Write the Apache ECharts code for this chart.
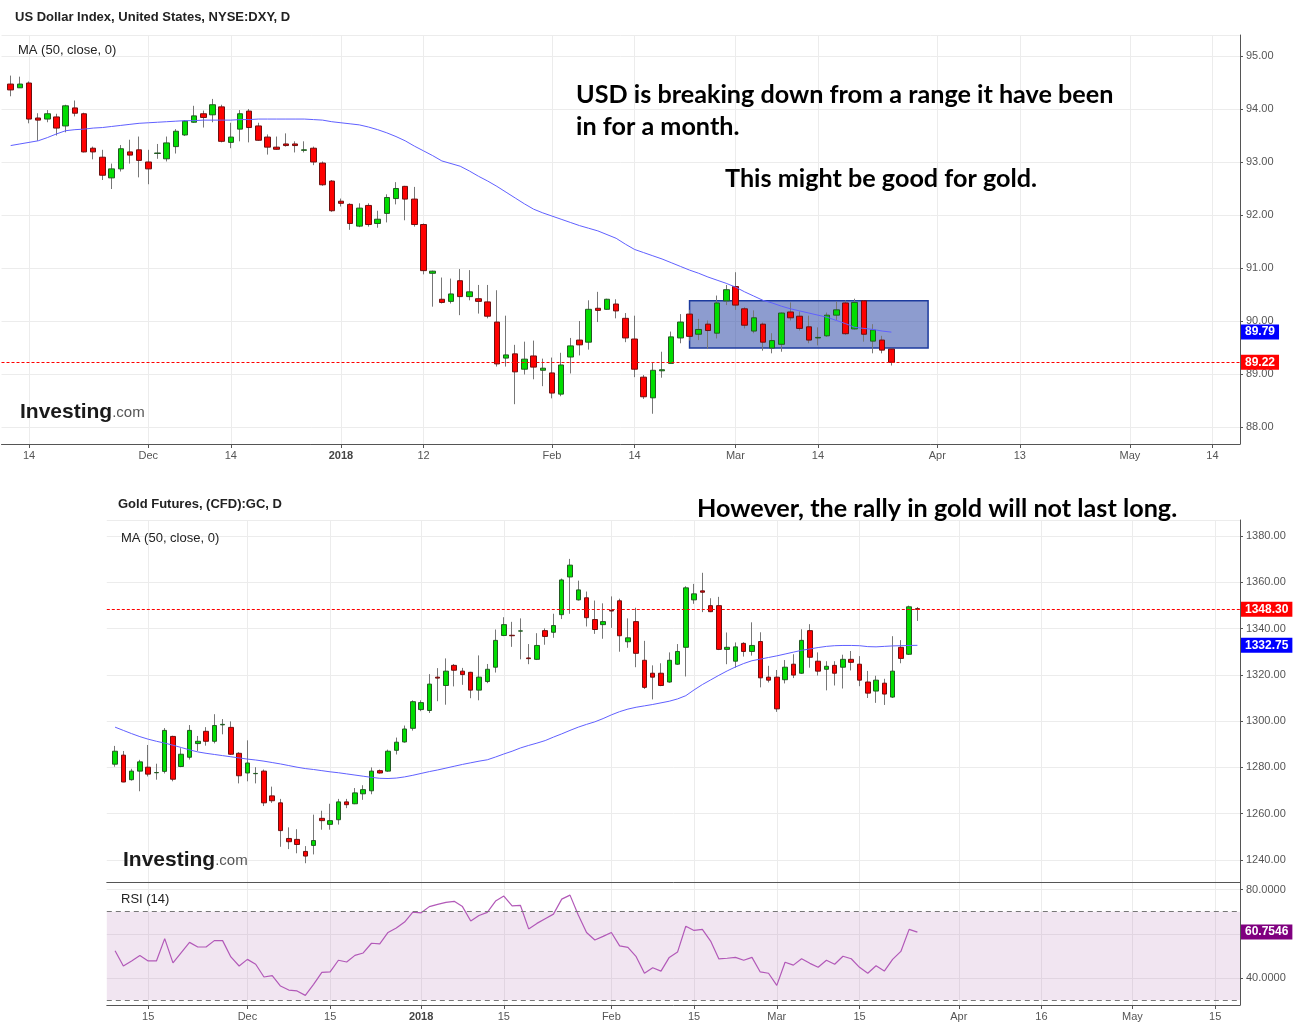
<!DOCTYPE html>
<html><head><meta charset="utf-8">
<script src="https://cdn.jsdelivr.net/npm/echarts@6/dist/echarts.min.js"></script>
<style>html,body{margin:0;padding:0;background:#fff}#c{width:1298px;height:1036px}</style>
</head><body><div id="c"></div>
<script>
// ---------- axis calendars (trading weekdays; index 0 is an empty pad day) ----------
const dxyFirstDay = '2017-11-09';
const dxyDayCount = 136;
const goldFirstDay = '2017-11-08';
const goldDayCount = 138;

const dxyTickDates = ['2017-11-14','2017-12-01','2017-12-14','2018-01-01','2018-01-12','2018-02-01','2018-02-14','2018-03-01','2018-03-14','2018-04-02','2018-04-13','2018-05-01','2018-05-14'];
const dxyTickLabels = ['14','Dec','14','2018','12','Feb','14','Mar','14','Apr','13','May','14'];
const goldTickDates = ['2017-11-15','2017-12-01','2017-12-15','2018-01-01','2018-01-15','2018-02-01','2018-02-15','2018-03-01','2018-03-15','2018-04-02','2018-04-16','2018-05-01','2018-05-15'];
const goldTickLabels = ['15','Dec','15','2018','15','Feb','15','Mar','15','Apr','16','May','15'];

// ---------- US Dollar Index (Nov 10 2017 .. Mar 26 2018) ----------
const dxyOpen = [94.47,94.40,94.49,93.83,93.81,93.85,93.68,94.02,93.91,93.26,
93.09,92.70,92.87,93.19,93.23,93.00,93.16,93.06,93.29,93.51,
93.75,93.91,93.89,94.04,93.37,93.62,93.96,93.68,93.47,93.28,
93.34,93.34,93.22,93.26,92.98,92.64,92.26,92.20,91.79,92.18,
91.84,92.03,92.31,92.54,92.30,91.82,90.90,90.41,90.37,90.76,
90.46,90.42,90.36,89.98,89.30,89.38,89.09,89.34,89.07,89.02,
88.62,89.32,89.64,89.60,90.24,90.22,90.32,90.05,89.66,88.94,
88.55,89.06,89.20,89.68,90.13,89.75,89.94,89.77,90.38,90.65,
90.23,89.81,89.94,89.49,89.56,90.17,90.09,89.89,89.68,89.72,
90.11,90.34,89.85,90.38,89.62,89.64,89.47];
const dxyClose = [94.36,94.47,93.81,93.79,93.91,93.64,94.06,93.92,93.19,93.19,
92.75,92.87,93.25,93.13,93.03,92.87,93.17,93.36,93.58,93.77,
93.87,93.84,94.08,93.39,93.47,93.91,93.65,93.41,93.28,93.24,
93.31,93.31,93.23,93.00,92.57,92.08,92.22,91.84,92.13,91.82,
91.92,92.33,92.50,92.30,91.82,90.95,90.94,90.35,90.51,90.46,
90.55,90.37,90.09,89.19,89.36,89.04,89.28,89.13,89.11,88.64,
89.17,89.53,89.55,90.22,90.20,90.41,90.19,89.68,89.09,88.57,
89.07,89.08,89.70,89.98,89.71,89.84,89.82,90.34,90.59,90.30,
89.92,90.06,89.60,89.63,90.15,90.06,89.86,89.64,89.69,90.11,
90.21,89.76,90.35,89.75,89.83,89.45,89.22];
const dxyLow = [94.24,94.40,93.73,93.40,93.75,93.50,93.56,93.86,93.18,93.05,
92.66,92.49,92.82,92.97,92.71,92.58,93.06,93.01,93.16,93.49,
93.74,93.65,93.75,93.37,93.26,93.39,93.37,93.40,93.14,93.23,
93.29,93.18,93.18,92.94,92.55,92.06,92.16,91.72,91.77,91.78,
91.76,91.86,92.20,91.90,91.78,90.88,90.27,90.33,90.33,90.11,
90.39,90.14,90.05,89.14,89.14,88.43,88.99,88.90,88.77,88.54,
88.58,89.01,89.35,89.46,89.98,90.21,90.05,89.60,88.94,88.53,
88.25,88.93,89.20,89.58,89.63,89.64,89.47,89.67,90.30,90.21,
89.86,89.77,89.44,89.39,89.42,90.01,89.82,89.58,89.54,89.70,
90.02,89.74,89.84,89.61,89.39,89.39,89.16];
const dxyHigh = [94.63,94.61,94.52,93.92,93.98,93.91,94.08,94.16,93.93,93.29,
93.23,92.97,93.32,93.42,93.48,93.23,93.34,93.48,93.62,93.79,
94.06,93.97,94.19,94.08,93.74,93.98,94.00,93.74,93.52,93.48,
93.54,93.39,93.39,93.29,93.01,92.66,92.31,92.22,92.22,92.22,
92.08,92.39,92.62,92.55,92.53,91.84,90.95,90.82,90.80,90.98,
90.96,90.68,90.68,90.58,90.10,89.55,89.61,89.63,89.29,89.31,
89.40,89.68,90.00,90.39,90.55,90.42,90.41,90.15,90.10,88.98,
89.21,89.42,89.80,90.13,90.21,90.04,90.01,90.48,90.68,90.92,
90.26,90.20,89.97,89.77,90.16,90.35,90.18,90.10,89.88,90.16,
90.37,90.39,90.42,90.39,89.94,89.72,89.49];
const dxyMA50 = [93.31,93.34,93.37,93.40,93.46,93.53,93.59,93.61,93.62,93.64,
93.65,93.67,93.69,93.71,93.73,93.74,93.75,93.76,93.77,93.78,
93.78,93.79,93.79,93.79,93.79,93.80,93.80,93.81,93.81,93.81,
93.81,93.81,93.81,93.80,93.79,93.76,93.74,93.72,93.70,93.66,
93.61,93.55,93.48,93.40,93.30,93.21,93.12,93.02,92.97,92.92,
92.83,92.73,92.64,92.54,92.43,92.32,92.21,92.11,92.04,91.98,
91.92,91.86,91.80,91.75,91.70,91.63,91.56,91.45,91.35,91.29,
91.23,91.17,91.10,91.03,90.96,90.90,90.83,90.77,90.71,90.64,
90.55,90.47,90.39,90.34,90.28,90.23,90.19,90.15,90.11,90.07,
90.01,89.95,89.88,89.86,89.84,89.81,89.79];
// highlighted range box
const dxyRangeFrom = '2018-02-22';
const dxyRangeTo = '2018-03-30';
const dxyRangeTop = 90.38;
const dxyRangeBottom = 89.49;

// ---------- Gold futures (Nov 9 2017 .. Mar 26 2018) ----------
const goldOpen = [1281.4,1285.3,1274.7,1278.4,1280.1,1277.7,1278.3,1293.4,1280.4,1284.4,
1290.3,1295.6,1291.3,1298.4,1297.3,1286.1,1277.6,1277.3,1278.4,1267.7,
1264.7,1249.3,1248.9,1243.7,1246.3,1258.0,1255.4,1257.4,1265.1,1264.3,
1268.6,1269.9,1278.6,1278.4,1287.4,1291.0,1296.9,1305.0,1304.6,1319.0,
1315.4,1324.1,1321.6,1321.1,1313.4,1317.1,1323.3,1337.0,1337.1,1338.9,
1327.3,1326.7,1339.1,1338.4,1346.0,1362.3,1352.4,1353.3,1343.9,1341.7,
1347.9,1352.0,1334.3,1343.0,1326.3,1320.7,1320.7,1316.9,1324.6,1331.9,
1352.4,1356.3,1349.9,1349.9,1331.0,1325.9,1333.6,1330.1,1334.4,1319.0,
1319.0,1317.9,1324.6,1320.7,1339.1,1325.9,1322.4,1324.1,1323.3,1326.7,
1324.6,1316.9,1313.0,1316.4,1310.4,1331.9,1328.9,1348.6];
const goldClose = [1287.0,1273.7,1278.4,1282.4,1277.1,1277.8,1296.0,1274.9,1285.7,1296.0,
1291.3,1291.3,1298.1,1298.6,1285.7,1276.4,1281.9,1277.4,1264.7,1265.6,
1252.7,1247.9,1246.7,1241.7,1248.4,1257.0,1257.0,1265.1,1263.9,1269.0,
1270.4,1278.4,1277.6,1287.0,1290.9,1296.6,1308.4,1308.0,1316.0,1318.6,
1321.6,1322.0,1320.1,1313.4,1319.0,1322.4,1334.9,1341.7,1336.9,1339.0,
1327.0,1332.7,1336.6,1341.3,1361.0,1367.4,1356.7,1344.7,1339.6,1343.0,
1347.6,1336.9,1336.0,1329.3,1314.6,1319.0,1315.4,1326.3,1330.1,1357.6,
1355.0,1355.7,1347.3,1331.0,1331.9,1332.1,1330.1,1332.7,1318.7,1317.7,
1305.3,1323.3,1319.9,1334.9,1327.6,1321.6,1323.7,1320.7,1326.7,1325.4,
1317.7,1312.1,1317.7,1311.7,1321.6,1327.1,1349.4,1348.3];
const goldLow = [1280.3,1273.6,1274.3,1269.7,1276.1,1274.7,1277.4,1274.0,1280.1,1283.4,
1287.1,1289.4,1290.4,1294.3,1285.4,1273.1,1274.0,1273.1,1263.3,1264.7,
1245.7,1244.7,1242.9,1238.6,1242.4,1253.1,1253.1,1255.3,1262.4,1264.1,
1266.0,1268.4,1277.3,1278.1,1285.6,1290.7,1295.9,1304.3,1303.5,1308.6,
1307.1,1315.0,1315.7,1309.9,1309.0,1316.4,1321.0,1336.7,1332.1,1326.7,
1324.6,1326.4,1333.0,1336.0,1344.1,1346.4,1352.1,1340.9,1337.7,1335.6,
1340.3,1330.0,1331.7,1323.3,1313.9,1309.4,1315.1,1316.6,1324.3,1319.3,
1350.7,1347.1,1347.1,1330.7,1324.6,1323.1,1327.9,1328.3,1314.6,1316.7,
1304.0,1316.3,1318.6,1320.4,1323.1,1319.7,1313.3,1315.4,1314.1,1321.9,
1315.1,1310.0,1307.9,1307.0,1310.0,1325.0,1328.6,1343.3];
const goldHigh = [1289.3,1287.1,1279.4,1283.3,1289.7,1281.6,1297.0,1293.7,1288.3,1298.3,
1293.6,1297.4,1303.0,1300.9,1299.9,1286.6,1291.7,1280.1,1279.1,1271.7,
1266.4,1254.1,1253.3,1246.0,1259.6,1261.3,1264.3,1266.4,1266.4,1271.1,
1272.3,1280.0,1279.1,1287.7,1292.9,1298.1,1309.0,1309.0,1320.3,1322.9,
1327.1,1324.7,1323.0,1321.3,1328.4,1324.7,1339.6,1344.9,1342.9,1344.4,
1333.3,1338.0,1340.1,1346.4,1361.6,1370.1,1360.7,1356.0,1352.1,1350.9,
1353.9,1352.9,1344.4,1349.0,1334.7,1324.1,1325.0,1329.7,1333.3,1358.3,
1359.3,1364.1,1353.1,1353.7,1338.3,1334.0,1334.1,1342.7,1338.4,1323.9,
1322.1,1326.4,1328.9,1339.7,1341.9,1329.7,1325.9,1325.9,1328.7,1330.3,
1328.1,1321.7,1319.6,1318.3,1336.7,1335.0,1349.9,1349.3];
const goldMA50 = [1297.4,1296.0,1294.6,1293.3,1292.2,1291.3,1290.5,1289.6,1288.6,1287.6,
1286.7,1286.1,1285.6,1285.1,1284.6,1284.1,1283.6,1283.2,1282.7,1282.1,
1281.5,1280.8,1280.1,1279.5,1279.1,1278.6,1278.1,1277.7,1277.2,1276.7,
1276.2,1275.7,1275.3,1275.2,1275.4,1275.9,1276.6,1277.4,1278.2,1278.9,
1279.7,1280.5,1281.3,1282.0,1282.7,1283.3,1284.5,1285.8,1287.0,1288.4,
1289.5,1290.5,1291.6,1293.1,1294.5,1296.0,1297.4,1298.6,1299.7,1301.1,
1302.7,1304.1,1305.2,1306.0,1306.6,1307.2,1307.9,1308.6,1309.6,1311.0,
1313.5,1315.8,1317.8,1319.8,1321.7,1323.4,1324.9,1326.1,1326.8,1327.5,
1328.2,1329.0,1329.8,1330.6,1331.2,1331.8,1332.3,1332.6,1332.7,1332.7,
1332.6,1332.2,1332.1,1332.3,1332.5,1332.6,1332.7,1332.75];
const goldRSI14 = [52.3,45.4,47.7,50.1,47.7,47.7,57.8,46.8,51.5,56.1,
54.0,54.0,56.9,56.9,49.5,45.4,48.4,46.2,40.4,41.0,
36.3,34.5,34.1,32.1,37.1,42.5,42.7,48.0,47.2,50.2,
51.3,55.7,55.4,60.6,62.6,65.3,69.8,69.5,72.3,73.3,
74.2,74.7,72.3,65.8,68.3,69.7,74.8,77.1,72.6,72.9,
62.2,64.7,66.8,68.9,75.7,77.5,68.5,60.6,57.2,58.8,
60.6,54.5,53.8,49.6,42.1,44.6,43.1,49.3,51.7,63.4,
61.5,62.0,56.7,48.6,48.9,49.3,48.0,49.3,42.7,42.1,
36.6,47.1,45.8,48.7,46.6,44.8,48.0,46.2,49.8,48.7,
44.8,42.1,45.5,43.1,48.4,52.0,62.0,60.7546];
const rsiUpper = 70, rsiLower = 30;

// ---------- helpers ----------
function weekdays(start, n) {
  const out = []; const d = new Date(start + 'T00:00:00Z');
  while (out.length < n) {
    const w = d.getUTCDay();
    if (w !== 0 && w !== 6) out.push(d.toISOString().slice(0, 10));
    d.setUTCDate(d.getUTCDate() + 1);
  }
  return out;
}
const dxyCats = weekdays(dxyFirstDay, dxyDayCount);
const goldCats = weekdays(goldFirstDay, goldDayCount);

const FONT = 'Liberation Sans';
const GRID_LINE = '#ececec';
const AXIS = '#555';
const HIDDEN = 'rgba(0,0,0,0)';

function xAxisFor(gridIndex, cats, tickDates, tickLabels, showLabels) {
  const set = new Set(tickDates);
  const lab = {}; tickDates.forEach((d, i) => { lab[d] = tickLabels[i]; });
  const f = (idx, val) => set.has(val);
  return {
    type: 'category', gridIndex, data: cats, boundaryGap: false,
    axisLine: { show: true, lineStyle: { color: AXIS, width: 1 } },
    axisTick: { show: showLabels, interval: f, length: 4, lineStyle: { color: AXIS } },
    axisLabel: {
      show: showLabels, interval: f, color: '#555', fontSize: 11, margin: 6, fontFamily: FONT,
      formatter: v => (lab[v] === '2018' ? '{b|2018}' : (lab[v] || '')),
      rich: { b: { fontWeight: 'bold', fontSize: 11, color: '#444', fontFamily: FONT } }
    },
    splitLine: { show: true, interval: f, lineStyle: { color: GRID_LINE, width: 1 } }
  };
}
function yAxisFor(gridIndex, min, max, splitNumber, digits) {
  return {
    type: 'value', gridIndex, position: 'right', min, max, splitNumber, scale: true,
    axisLine: { show: true, lineStyle: { color: AXIS, width: 1 } },
    axisTick: { show: true, length: 3, lineStyle: { color: AXIS } },
    axisLabel: { formatter: v => v.toFixed(digits), color: '#555', fontSize: 11, margin: 6,
      fontFamily: FONT, showMinLabel: false, showMaxLabel: false },
    splitLine: { show: true, lineStyle: { color: GRID_LINE, width: 1 } }
  };
}
function boxLabel(bg, value, digits) {
  const txt = value.toFixed(digits);
  return { show: true, position: 'end', distance: 1, formatter: () => txt,
    backgroundColor: bg, color: '#fff', fontWeight: 'bold', fontSize: 12, fontFamily: FONT,
    padding: [2, 4, 1, 4] };
}
function candleSeries(xi, cats, o, c, l, h, width, lastDigits) {
  const wick = o.map((v, i) => [cats[i + 1], v, c[i], l[i], h[i]]);
  const body = o.map((v, i) => [cats[i + 1], v, c[i], Math.min(v, c[i]), Math.max(v, c[i])]);
  const last = c[c.length - 1];
  return [
    { type: 'candlestick', xAxisIndex: xi, yAxisIndex: xi, data: wick, encode: { x: 0, y: [1, 2, 3, 4] },
      barWidth: 1, z: 3, silent: true,
      itemStyle: { color: '#777', color0: '#777', borderColor: '#777', borderColor0: '#777', borderWidth: 1 } },
    { type: 'candlestick', xAxisIndex: xi, yAxisIndex: xi, data: body, encode: { x: 0, y: [1, 2, 3, 4] },
      barWidth: width, z: 4, silent: true,
      itemStyle: { color: '#00dd00', color0: '#ff0000', borderColor: '#235a23', borderColor0: '#6e1010', borderWidth: 1 },
      markLine: { symbol: ['none', 'none'], silent: true, animation: false, z: 6,
        data: [{ yAxis: last, lineStyle: { color: '#ff0000', type: [3, 2], width: 1, opacity: 1 }, label: boxLabel('#ff0000', last, lastDigits) }] } }
  ];
}
function valueTag(value, bg, digits) {
  return { yAxis: value, lineStyle: { color: HIDDEN, width: 0 }, label: boxLabel(bg, value, digits) };
}

const chart = echarts.init(document.getElementById('c'), null, { renderer: 'canvas' });

const ANNOT = 'bold 25.2px Lato';
const option = {
  animation: false,
  backgroundColor: '#ffffff',
  grid: [
    { left: 1.5, right: 58, top: 35, height: 409 },
    { left: 106.8, right: 58, top: 520, height: 362 },
    { left: 106.8, right: 58, top: 882, height: 123 }
  ],
  xAxis: [
    xAxisFor(0, dxyCats, dxyTickDates, dxyTickLabels, true),
    xAxisFor(1, goldCats, goldTickDates, goldTickLabels, false),
    xAxisFor(2, goldCats, goldTickDates, goldTickLabels, true)
  ],
  yAxis: [
    yAxisFor(0, 87.679, 95.396, 7, 2),
    yAxisFor(1, 1230.49, 1386.91, 8, 2),
    yAxisFor(2, 27.73, 83.45, 3, 4)
  ],
  series: [
    { type: 'line', xAxisIndex: 0, yAxisIndex: 0, data: [], z: 1, silent: true,
      markArea: { silent: true, itemStyle: { color: 'rgba(28,58,160,0.5)', borderColor: '#1c3a9e', borderWidth: 1.5 },
        data: [[{ xAxis: dxyRangeFrom, yAxis: dxyRangeTop }, { xAxis: dxyRangeTo, yAxis: dxyRangeBottom }]] } },
    ...candleSeries(0, dxyCats, dxyOpen, dxyClose, dxyLow, dxyHigh, 6, 2),
    { type: 'line', xAxisIndex: 0, yAxisIndex: 0, z: 5, silent: true, symbol: 'none',
      data: dxyMA50.map((v, i) => [dxyCats[i + 1], v]),
      lineStyle: { color: '#6060ff', width: 1 },
      markLine: { symbol: ['none', 'none'], silent: true, animation: false, z: 7,
        data: [valueTag(dxyMA50[dxyMA50.length - 1], '#0000ff', 2)] } },
    ...candleSeries(1, goldCats, goldOpen, goldClose, goldLow, goldHigh, 5, 2),
    { type: 'line', xAxisIndex: 1, yAxisIndex: 1, z: 5, silent: true, symbol: 'none',
      data: goldMA50.map((v, i) => [goldCats[i + 1], v]),
      lineStyle: { color: '#6060ff', width: 1 },
      markLine: { symbol: ['none', 'none'], silent: true, animation: false, z: 7,
        data: [valueTag(goldMA50[goldMA50.length - 1], '#0000ff', 2)] } },
    { type: 'line', xAxisIndex: 2, yAxisIndex: 2, z: 5, silent: true, symbol: 'none',
      data: goldRSI14.map((v, i) => [goldCats[i + 1], v]),
      lineStyle: { color: '#b259b8', width: 1.2 },
      markArea: { silent: true, itemStyle: { color: 'rgba(180,110,180,0.18)' },
        data: [[{ yAxis: rsiLower }, { yAxis: rsiUpper }]] },
      markLine: { symbol: ['none', 'none'], silent: true, animation: false, z: 7,
        data: [
          { yAxis: rsiUpper, lineStyle: { color: '#777', type: [5, 4], width: 1 }, label: { show: false } },
          { yAxis: rsiLower, lineStyle: { color: '#777', type: [5, 4], width: 1 }, label: { show: false } },
          valueTag(goldRSI14[goldRSI14.length - 1], '#800080', 4)
        ] } }
  ],
  graphic: [
    { type: 'text', left: 15, top: 11, z: 100, style: { text: 'US Dollar Index, United States, NYSE:DXY, D', font: 'bold 13px "Liberation Sans"', fill: '#222' } },
    { type: 'text', left: 18, top: 44, z: 100, style: { text: 'MA (50, close, 0)', font: '13px "Liberation Sans"', fill: '#222' } },
    { type: 'text', left: 20, top: 402, z: 100, style: { text: '{a|Investing}{b|.com}',
      rich: { a: { fontSize: 21, fontWeight: 'bold', fontFamily: FONT, fill: '#1a1a1a' }, b: { fontSize: 15, fontFamily: FONT, fill: '#555' } } } },
    { type: 'text', left: 576, top: 82, z: 100, style: { text: 'USD is breaking down from a range it have been', font: ANNOT, fill: '#000' } },
    { type: 'text', left: 576, top: 114, z: 100, style: { text: 'in for a month.', font: ANNOT, fill: '#000' } },
    { type: 'text', left: 725, top: 166, z: 100, style: { text: 'This might be good for gold.', font: ANNOT, fill: '#000' } },
    { type: 'text', left: 118, top: 498, z: 100, style: { text: 'Gold Futures, (CFD):GC, D', font: 'bold 13px "Liberation Sans"', fill: '#222' } },
    { type: 'text', left: 697, top: 496, z: 100, style: { text: 'However, the rally in gold will not last long.', font: ANNOT, fill: '#000' } },
    { type: 'text', left: 121, top: 532, z: 100, style: { text: 'MA (50, close, 0)', font: '13px "Liberation Sans"', fill: '#222' } },
    { type: 'text', left: 123, top: 850, z: 100, style: { text: '{a|Investing}{b|.com}',
      rich: { a: { fontSize: 21, fontWeight: 'bold', fontFamily: FONT, fill: '#1a1a1a' }, b: { fontSize: 15, fontFamily: FONT, fill: '#555' } } } },
    { type: 'text', left: 121, top: 893, z: 100, style: { text: 'RSI (14)', font: '13px "Liberation Sans"', fill: '#222' } }
  ]
};
chart.setOption(option);
</script>
</body></html>
